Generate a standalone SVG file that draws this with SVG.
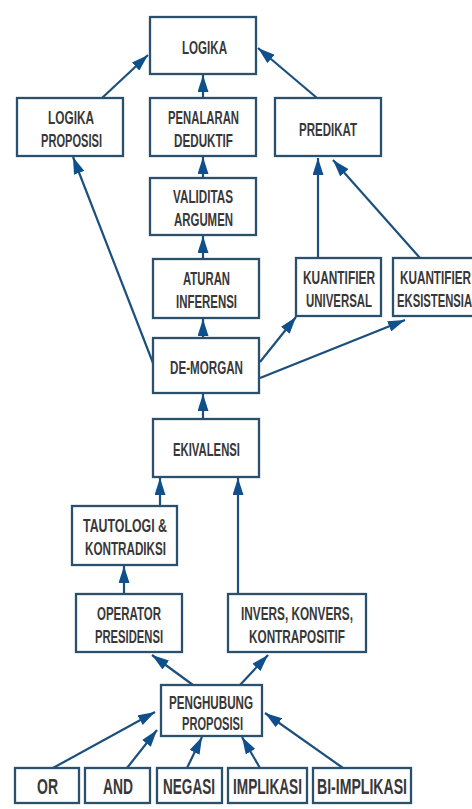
<svg xmlns="http://www.w3.org/2000/svg" width="472" height="809" viewBox="0 0 472 809">
<style>
.box{fill:#fff;stroke:#2a506c;stroke-width:2.3}
.t{font-family:"Liberation Sans Narrow","Liberation Sans",Arial,sans-serif;font-weight:bold;font-size:18px;fill:#383838;text-anchor:middle}
.b{font-size:22px}
.c{fill:none;stroke:#1b4f7e;stroke-width:2.2;marker-end:url(#ah)}
</style>
<defs>
<marker id="ah" markerUnits="userSpaceOnUse" markerWidth="17" markerHeight="11" refX="17" refY="5.5" orient="auto">
<path d="M0,0 L17,5.5 L0,11 z" fill="#0f4f8c"/>
</marker>
</defs>
<rect width="472" height="809" fill="#fff"/>
<g id="connectors">
<line class="c" x1="102" y1="98" x2="148" y2="55"/>
<line class="c" x1="203" y1="98" x2="203" y2="75"/>
<line class="c" x1="317" y1="98" x2="258" y2="48"/>
<line class="c" x1="203" y1="178" x2="203" y2="157"/>
<line class="c" x1="203" y1="259" x2="203" y2="236"/>
<line class="c" x1="203" y1="338" x2="203" y2="319"/>
<line class="c" x1="153" y1="363" x2="73" y2="157"/>
<line class="c" x1="318" y1="258" x2="318" y2="158"/>
<line class="c" x1="420" y1="258" x2="333" y2="160"/>
<line class="c" x1="260" y1="362" x2="296" y2="317"/>
<line class="c" x1="260" y1="378" x2="405" y2="320"/>
<line class="c" x1="203" y1="419" x2="203" y2="394"/>
<line class="c" x1="160" y1="506" x2="160" y2="478"/>
<line class="c" x1="238" y1="595" x2="238" y2="478"/>
<line class="c" x1="124" y1="594" x2="124" y2="566"/>
<line class="c" x1="193" y1="685" x2="152" y2="655"/>
<line class="c" x1="240" y1="685" x2="268" y2="655"/>
<line class="c" x1="53" y1="768" x2="155" y2="712"/>
<line class="c" x1="127" y1="768" x2="157" y2="730"/>
<line class="c" x1="187" y1="768" x2="202" y2="737"/>
<line class="c" x1="260" y1="768" x2="242" y2="737"/>
<line class="c" x1="343" y1="768" x2="265" y2="713"/>
</g>
<g id="logika"><rect class="box" x="150" y="17" width="106" height="57"/><text class="t" x="204.5" y="54" textLength="45" lengthAdjust="spacingAndGlyphs">LOGIKA</text></g>
<g id="logika-proposisi"><rect class="box" x="17" y="98" width="106" height="58"/><text class="t" x="71" y="124" textLength="46" lengthAdjust="spacingAndGlyphs">LOGIKA</text><text class="t" x="71.5" y="147" textLength="61" lengthAdjust="spacingAndGlyphs">PROPOSISI</text></g>
<g id="penalaran-deduktif"><rect class="box" x="150" y="98" width="106" height="58"/><text class="t" x="203.5" y="124" textLength="71" lengthAdjust="spacingAndGlyphs">PENALARAN</text><text class="t" x="203.5" y="147" textLength="59" lengthAdjust="spacingAndGlyphs">DEDUKTIF</text></g>
<g id="predikat"><rect class="box" x="275" y="98" width="106" height="58"/><text class="t" x="328" y="136" textLength="58" lengthAdjust="spacingAndGlyphs">PREDIKAT</text></g>
<g id="validitas-argumen"><rect class="box" x="150" y="178" width="106" height="57"/><text class="t" x="203" y="203" textLength="60" lengthAdjust="spacingAndGlyphs">VALIDITAS</text><text class="t" x="203.5" y="226" textLength="59" lengthAdjust="spacingAndGlyphs">ARGUMEN</text></g>
<g id="aturan-inferensi"><rect class="box" x="153" y="259" width="106" height="59"/><text class="t" x="206.5" y="285" textLength="47" lengthAdjust="spacingAndGlyphs">ATURAN</text><text class="t" x="206.5" y="308" textLength="61" lengthAdjust="spacingAndGlyphs">INFERENSI</text></g>
<g id="kuantifier-universal"><rect class="box" x="296" y="258" width="85" height="58"/><text class="t" x="339" y="284" textLength="72" lengthAdjust="spacingAndGlyphs">KUANTIFIER</text><text class="t" x="339" y="307" textLength="66" lengthAdjust="spacingAndGlyphs">UNIVERSAL</text></g>
<g id="kuantifier-eksistensial"><rect class="box" x="393" y="258" width="85" height="58"/><text class="t" x="435.5" y="284" textLength="71" lengthAdjust="spacingAndGlyphs">KUANTIFIER</text><text class="t" x="438" y="307" textLength="82" lengthAdjust="spacingAndGlyphs">EKSISTENSIAL</text></g>
<g id="de-morgan"><rect class="box" x="153" y="338" width="106" height="55"/><text class="t" x="206.5" y="374" textLength="73" lengthAdjust="spacingAndGlyphs">DE-MORGAN</text></g>
<g id="ekivalensi"><rect class="box" x="153" y="419" width="106" height="58"/><text class="t" x="206.5" y="456" textLength="67" lengthAdjust="spacingAndGlyphs">EKIVALENSI</text></g>
<g id="tautologi-kontradiksi"><rect class="box" x="72" y="506" width="105" height="59"/><text class="t" x="125" y="532" textLength="84" lengthAdjust="spacingAndGlyphs">TAUTOLOGI &amp;</text><text class="t" x="125.5" y="555" textLength="81" lengthAdjust="spacingAndGlyphs">KONTRADIKSI</text></g>
<g id="operator-presidensi"><rect class="box" x="76" y="594" width="106" height="58"/><text class="t" x="129" y="620" textLength="64" lengthAdjust="spacingAndGlyphs">OPERATOR</text><text class="t" x="129" y="643" textLength="68" lengthAdjust="spacingAndGlyphs">PRESIDENSI</text></g>
<g id="invers-konvers-kontrapositif"><rect class="box" x="228" y="594" width="138" height="58"/><text class="t" x="297" y="620" textLength="112" lengthAdjust="spacingAndGlyphs">INVERS, KONVERS,</text><text class="t" x="297" y="643" textLength="96" lengthAdjust="spacingAndGlyphs">KONTRAPOSITIF</text></g>
<g id="penghubung-proposisi"><rect class="box" x="161" y="685" width="101" height="51"/><text class="t" x="211" y="709" textLength="84" lengthAdjust="spacingAndGlyphs">PENGHUBUNG</text><text class="t" x="212.5" y="730" textLength="61" lengthAdjust="spacingAndGlyphs">PROPOSISI</text></g>
<g id="or"><rect class="box" x="15" y="768" width="64" height="35"/><text class="t b" x="47.5" y="794" textLength="21" lengthAdjust="spacingAndGlyphs">OR</text></g>
<g id="and"><rect class="box" x="85" y="768" width="65" height="35"/><text class="t b" x="118" y="794" textLength="30" lengthAdjust="spacingAndGlyphs">AND</text></g>
<g id="negasi"><rect class="box" x="157" y="768" width="65" height="35"/><text class="t b" x="189" y="794" textLength="52" lengthAdjust="spacingAndGlyphs">NEGASI</text></g>
<g id="implikasi"><rect class="box" x="228" y="768" width="79" height="35"/><text class="t b" x="267.5" y="794" textLength="69" lengthAdjust="spacingAndGlyphs">IMPLIKASI</text></g>
<g id="bi-implikasi"><rect class="box" x="313" y="768" width="98" height="35"/><text class="t b" x="362" y="794" textLength="90" lengthAdjust="spacingAndGlyphs">BI-IMPLIKASI</text></g>
</svg>
